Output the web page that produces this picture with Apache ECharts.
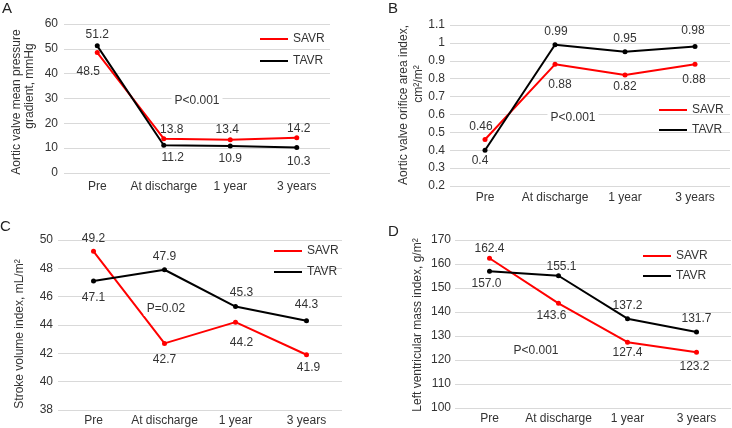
<!DOCTYPE html>
<html>
<head>
<meta charset="utf-8">
<script src="https://cdn.jsdelivr.net/npm/echarts@6/dist/echarts.min.js"></script>
<style>html,body{margin:0;padding:0;background:#fff}#c{width:732px;height:428px}</style>
</head>
<body>
<div id="c"></div>
<script>
// ---- data ----
const categories = ['Pre', 'At discharge', '1 year', '3 years'];
const savrA = [48.5, 13.8, 13.4, 14.2];
const tavrA = [51.2, 11.2, 10.9, 10.3];
const savrB = [0.46, 0.88, 0.82, 0.88];
const tavrB = [0.4, 0.99, 0.95, 0.98];
const savrC = [49.2, 42.7, 44.2, 41.9];
const tavrC = [47.1, 47.9, 45.3, 44.3];
const savrD = [162.4, 143.6, 127.4, 123.2];
const tavrD = [157.0, 155.1, 137.2, 131.7];
const ticksA = {min: 0, max: 60, interval: 10};
const ticksB = {min: 0.2, max: 1.1, interval: 0.1};
const ticksC = {min: 38, max: 50, interval: 2};
const ticksD = {min: 100, max: 170, interval: 10};
const pTexts = ['P<0.001', 'P<0.001', 'P=0.02', 'P<0.001'];

// ---- layout (label center offsets from point) ----
const layout = [
  {grid: {left: 64, top: 24, width: 266, height: 149}, ticks: ticksA, s: savrA, t: tavrA, dec: 1, ylm: 6, xlm: 8,
   sOff: [[-9, 19], [8, -9], [-3, -10], [2, -9]], tOff: [[0, -11], [9, 13], [0, 13], [2, 14]],
   legend: {left: 255, top: 28, itemGap: 10}},
  {grid: {left: 450, top: 25, width: 280, height: 161}, ticks: ticksB, s: savrB, t: tavrB, dec: null, ylm: 5, xlm: 6,
   sOff: [[-4, -13], [5, 20], [0, 12], [-1, 15]], tOff: [[-5, 10], [1, -13], [0, -13], [-2, -16]],
   legend: {left: 654, top: 99, itemGap: 8}},
  {grid: {left: 58, top: 240, width: 284, height: 170}, ticks: ticksC, s: savrC, t: tavrC, dec: 1, ylm: 5, xlm: 5,
   sOff: [[0, -13], [0, 16], [6, 21], [2, 13]], tOff: [[0, 17], [0, -13], [6, -14], [0, -16]],
   legend: {left: 269, top: 240, itemGap: 9}},
  {grid: {left: 455, top: 240, width: 276, height: 168}, ticks: ticksD, s: savrD, t: tavrD, dec: 1, ylm: 4, xlm: 5,
   sOff: [[0, -10], [-7, 12], [0, 10], [-2, 14]], tOff: [[-3, 12], [3, -9], [0, -13], [0, -13]],
   legend: {left: 638, top: 245, itemGap: 8}}
];
const pPos = [[197, 101], [573, 118], [166, 309], [536, 351]];
const FONT = "'Liberation Sans', Arial, Helvetica, sans-serif";
const TXT = '#333';

const grids = [], xAxes = [], yAxes = [], series = [], legends = [];
layout.forEach((L, i) => {
  grids.push(L.grid);
  xAxes.push({type: 'category', gridIndex: i, data: categories, boundaryGap: true,
    axisLine: {show: false}, axisTick: {show: false},
    axisLabel: {margin: L.xlm, fontSize: 12, color: TXT, fontFamily: FONT, interval: 0}});
  yAxes.push({type: 'value', gridIndex: i, min: L.ticks.min, max: L.ticks.max, interval: L.ticks.interval,
    axisLine: {show: false}, axisTick: {show: false},
    splitLine: {lineStyle: {color: '#d9d9d9', width: 1}},
    axisLabel: {margin: L.ylm, fontSize: 12, color: TXT, fontFamily: FONT}});
  const mk = (name, vals, offs, color) => ({
    name, type: 'line', xAxisIndex: i, yAxisIndex: i,
    data: vals.map((v, k) => ({value: v, label: {offset: offs[k]}})),
    symbol: 'circle', symbolSize: 5, lineStyle: {width: 2, color}, itemStyle: {color},
    label: {show: true, position: 'inside', fontSize: 12, color: TXT, fontFamily: FONT,
      formatter: p => L.dec == null ? String(p.value) : Number(p.value).toFixed(L.dec)},
    emphasis: {disabled: true}, animation: false
  });
  series.push(mk('SAVR', L.s, L.sOff, '#ff0000'));
  series.push(mk('TAVR', L.t, L.tOff, '#000000'));
  legends.push({orient: 'vertical', left: L.legend.left, top: L.legend.top, itemGap: L.legend.itemGap,
    icon: 'rect', itemWidth: 28, itemHeight: 2, data: ['SAVR', 'TAVR'],
    textStyle: {fontSize: 12, color: TXT, fontFamily: FONT}, selectedMode: false});
});

const graphics = [];
const addText = (text, x, y, opts) => graphics.push(Object.assign({type: 'text', x, y, z: 100,
  style: Object.assign({text, fill: TXT, font: '12px ' + FONT, textAlign: 'center', textVerticalAlign: 'middle'}, opts && opts.style || {})},
  opts && opts.rotation != null ? {rotation: opts.rotation} : {}));
pTexts.forEach((t, i) => addText(t, pPos[i][0], pPos[i][1], {style: {backgroundColor: '#fff', padding: [1, 3]}}));
const R = Math.PI / 2;
addText('Aortic valve mean pressure', 17, 102, {rotation: R});
addText('gradient, mmHg', 30, 86, {rotation: R});
addText('Aortic valve orifice area index,', 404, 105, {rotation: R});
addText('cm²/m²', 419, 84, {rotation: R});
addText('Stroke volume index, mL/m²', 20, 334, {rotation: R});
addText('Left ventricular mass index, g/m²', 418, 325, {rotation: R});
const letterStyle = {font: '15px ' + FONT, fill: '#222', textAlign: 'left', textVerticalAlign: 'top'};
addText('A', 2, 1, {style: letterStyle});
addText('B', 388, 1, {style: letterStyle});
addText('C', 0, 219, {style: letterStyle});
addText('D', 388, 224, {style: letterStyle});

const chart = echarts.init(document.getElementById('c'), null, {renderer: 'canvas'});
chart.setOption({
  animation: false,
  textStyle: {fontFamily: FONT},
  grid: grids, xAxis: xAxes, yAxis: yAxes, series, legend: legends, graphic: graphics
});
</script>
</body>
</html>
